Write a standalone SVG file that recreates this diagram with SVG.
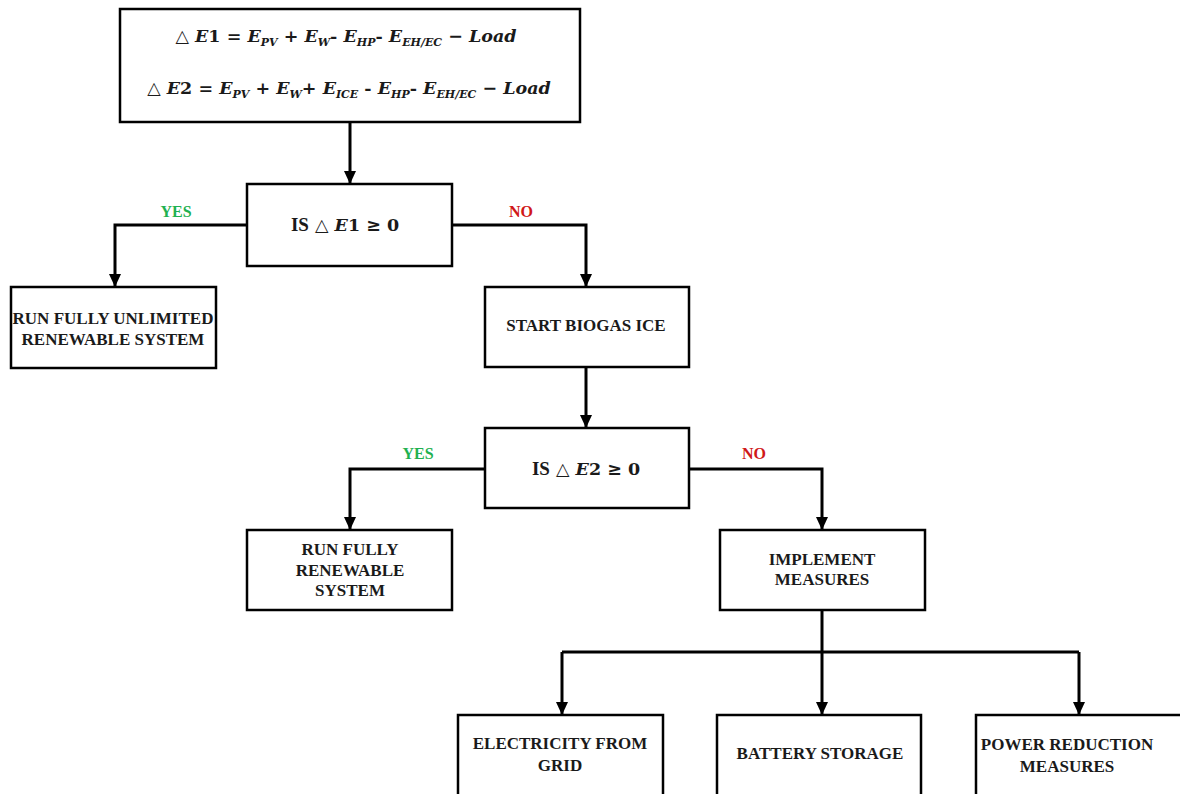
<svg xmlns="http://www.w3.org/2000/svg" width="1180" height="794" viewBox="0 0 1180 794">
  <style>
    .box { fill: #ffffff; stroke: #000000; stroke-width: 2.5; }
    .lbl { font-family: "Liberation Serif", "Times New Roman", serif; font-weight: bold; font-size: 17px; fill: #1a1a1a; text-anchor: middle; }
    .math { font-family: "DejaVu Serif", "Liberation Serif", serif; font-weight: bold; font-size: 17.5px; fill: #1a1a1a; text-anchor: middle; }
    .tnr { font-family: "Liberation Serif", "Times New Roman", serif; font-size: 19px; }
    .it { font-style: italic; }
    .sub { font-size: 11px; font-style: italic; }
    .wire { fill: none; stroke: #000000; stroke-width: 3; }
    .yes { font-family: "Liberation Serif", "Times New Roman", serif; font-weight: bold; font-size: 16px; fill: #1fb150; text-anchor: middle; }
    .no { font-family: "Liberation Serif", "Times New Roman", serif; font-weight: bold; font-size: 16px; fill: #d01818; text-anchor: middle; }
  </style>
  <defs>
    <marker id="arrow" markerWidth="13" markerHeight="12" refX="12" refY="6" orient="auto" markerUnits="userSpaceOnUse" viewBox="0 0 13 12">
      <path d="M0,0 L13,6 L0,12 Z" fill="#000000"/>
    </marker>
  </defs>
  <rect width="1180" height="794" fill="#ffffff"/>

  <!-- connectors -->
  <g id="connectors">
    <path class="wire" d="M350,123 V183" marker-end="url(#arrow)"/>
    <path class="wire" d="M247,225 H115 V286" marker-end="url(#arrow)"/>
    <path class="wire" d="M452,225 H586 V286" marker-end="url(#arrow)"/>
    <path class="wire" d="M586,367 V427" marker-end="url(#arrow)"/>
    <path class="wire" d="M485,469 H350 V529" marker-end="url(#arrow)"/>
    <path class="wire" d="M689,469 H822 V529" marker-end="url(#arrow)"/>
    <path class="wire" d="M822,610 V652"/>
    <path class="wire" d="M562,652 H1079"/>
    <path class="wire" d="M562,652 V714" marker-end="url(#arrow)"/>
    <path class="wire" d="M822,652 V714" marker-end="url(#arrow)"/>
    <path class="wire" d="M1079,652 V714" marker-end="url(#arrow)"/>
    <text class="yes" x="176" y="217">YES</text>
    <text class="no" x="521" y="217">NO</text>
    <text class="yes" x="418" y="459">YES</text>
    <text class="no" x="754" y="459">NO</text>
  </g>

  <!-- energy balance equations -->
  <g id="balance">
    <rect class="box" x="120" y="9" width="460" height="113"/>
    <text class="math" x="346" y="42">△ <tspan class="it">E</tspan>1 = <tspan class="it">E</tspan><tspan class="sub" dy="4">PV</tspan><tspan dy="-4"> + </tspan><tspan class="it">E</tspan><tspan class="sub" dy="4">W</tspan><tspan dy="-4">- </tspan><tspan class="it">E</tspan><tspan class="sub" dy="4">HP</tspan><tspan dy="-4">- </tspan><tspan class="it">E</tspan><tspan class="sub" dy="4">EH/EC</tspan><tspan dy="-4"> − </tspan><tspan class="it">Load</tspan></text>
    <text class="math" x="349" y="94">△ <tspan class="it">E</tspan>2 = <tspan class="it">E</tspan><tspan class="sub" dy="4">PV</tspan><tspan dy="-4"> + </tspan><tspan class="it">E</tspan><tspan class="sub" dy="4">W</tspan><tspan dy="-4">+ </tspan><tspan class="it">E</tspan><tspan class="sub" dy="4">ICE</tspan><tspan dy="-4"> - </tspan><tspan class="it">E</tspan><tspan class="sub" dy="4">HP</tspan><tspan dy="-4">- </tspan><tspan class="it">E</tspan><tspan class="sub" dy="4">EH/EC</tspan><tspan dy="-4"> − </tspan><tspan class="it">Load</tspan></text>
  </g>

  <g id="check-e1">
    <rect class="box" x="247" y="184" width="205" height="82"/>
    <text class="math" x="345" y="231"><tspan class="tnr">IS</tspan> △ <tspan class="it">E</tspan>1 ≥ 0</text>
  </g>

  <g id="run-unlimited">
    <rect class="box" x="11" y="287" width="205" height="81"/>
    <text class="lbl" x="113" y="324">RUN FULLY UNLIMITED</text>
    <text class="lbl" x="113" y="345">RENEWABLE SYSTEM</text>
  </g>

  <g id="start-ice">
    <rect class="box" x="485" y="287" width="204" height="80"/>
    <text class="lbl" x="586" y="331">START BIOGAS ICE</text>
  </g>

  <g id="check-e2">
    <rect class="box" x="485" y="428" width="204" height="80"/>
    <text class="math" x="586" y="475"><tspan class="tnr">IS</tspan> △ <tspan class="it">E</tspan>2 ≥ 0</text>
  </g>

  <g id="run-renewable">
    <rect class="box" x="247" y="530" width="205" height="80"/>
    <text class="lbl" x="350" y="555">RUN FULLY</text>
    <text class="lbl" x="350" y="576">RENEWABLE</text>
    <text class="lbl" x="350" y="596">SYSTEM</text>
  </g>

  <g id="implement">
    <rect class="box" x="720" y="530" width="205" height="80"/>
    <text class="lbl" x="822" y="565">IMPLEMENT</text>
    <text class="lbl" x="822" y="585">MEASURES</text>
  </g>

  <g id="grid">
    <rect class="box" x="458" y="715" width="205" height="100"/>
    <text class="lbl" x="560" y="749">ELECTRICITY FROM</text>
    <text class="lbl" x="560" y="771">GRID</text>
  </g>

  <g id="battery">
    <rect class="box" x="717" y="715" width="204" height="100"/>
    <text class="lbl" x="820" y="759">BATTERY STORAGE</text>
  </g>

  <g id="reduction">
    <rect class="box" x="976" y="715" width="220" height="100"/>
    <text class="lbl" x="1067" y="750">POWER REDUCTION</text>
    <text class="lbl" x="1067" y="772">MEASURES</text>
  </g>
</svg>
